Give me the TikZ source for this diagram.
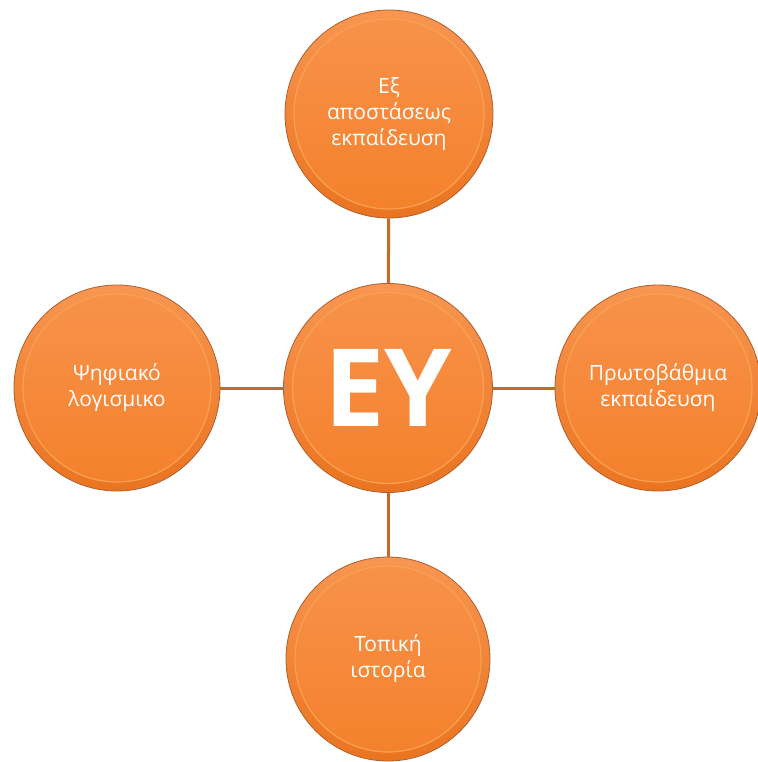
\documentclass[tikz,border=0pt]{standalone}
\usepackage{fontspec}
\setmainfont{Open Sans}
\newfontfamily\opsans{Open Sans}
\usetikzlibrary{backgrounds}
\definecolor{orMain}{RGB}{244,128,42}
\definecolor{orLight}{RGB}{248,150,82}
\definecolor{orDark}{RGB}{234,116,32}
\definecolor{orEdge}{RGB}{175,95,45}
\definecolor{orRim}{RGB}{252,196,115}
\definecolor{linkc}{RGB}{200,104,45}
\tikzset{
  bubble/.style={circle, draw=orEdge, line width=0.8pt, minimum size=2*#1 pt, inner sep=0pt,
    top color=orLight, bottom color=orDark, text=white, align=center,
    font=\opsans\fontsize{21}{26}\selectfont,
    path picture={
      \shade[top color=orLight!85!orMain, bottom color=orMain]
        (path picture bounding box.center) circle ({#1pt-9pt});
      \draw[orRim!50!orMain, line width=1.2pt]
        (path picture bounding box.center) circle ({#1pt-9pt});
    }},
  link/.style={draw=linkc, line width=3pt}
}
\begin{document}
\begin{tikzpicture}[x=1pt,y=-1pt]
\useasboundingbox (0,0) rectangle (757,762);
\node[bubble=104.5] (c) at (388,388) {\fontsize{108}{110}\selectfont\bfseries ΕΥ};
\node[bubble=104] (t) at (389,114) {Εξ\\αποστάσεως\\εκπαίδευση};
\node[bubble=103] (l) at (117,388) {Ψηφιακό\\λογισμικο};
\node[bubble=103] (r) at (658,388) {Πρωτοβάθμια\\εκπαίδευση};
\node[bubble=102] (b) at (388,659) {Τοπική\\ιστορία};
\begin{scope}[on background layer]
\draw[link] (c) -- (t);
\draw[link] (c) -- (l);
\draw[link] (c) -- (r);
\draw[link] (c) -- (b);
\end{scope}
\end{tikzpicture}
\end{document}
